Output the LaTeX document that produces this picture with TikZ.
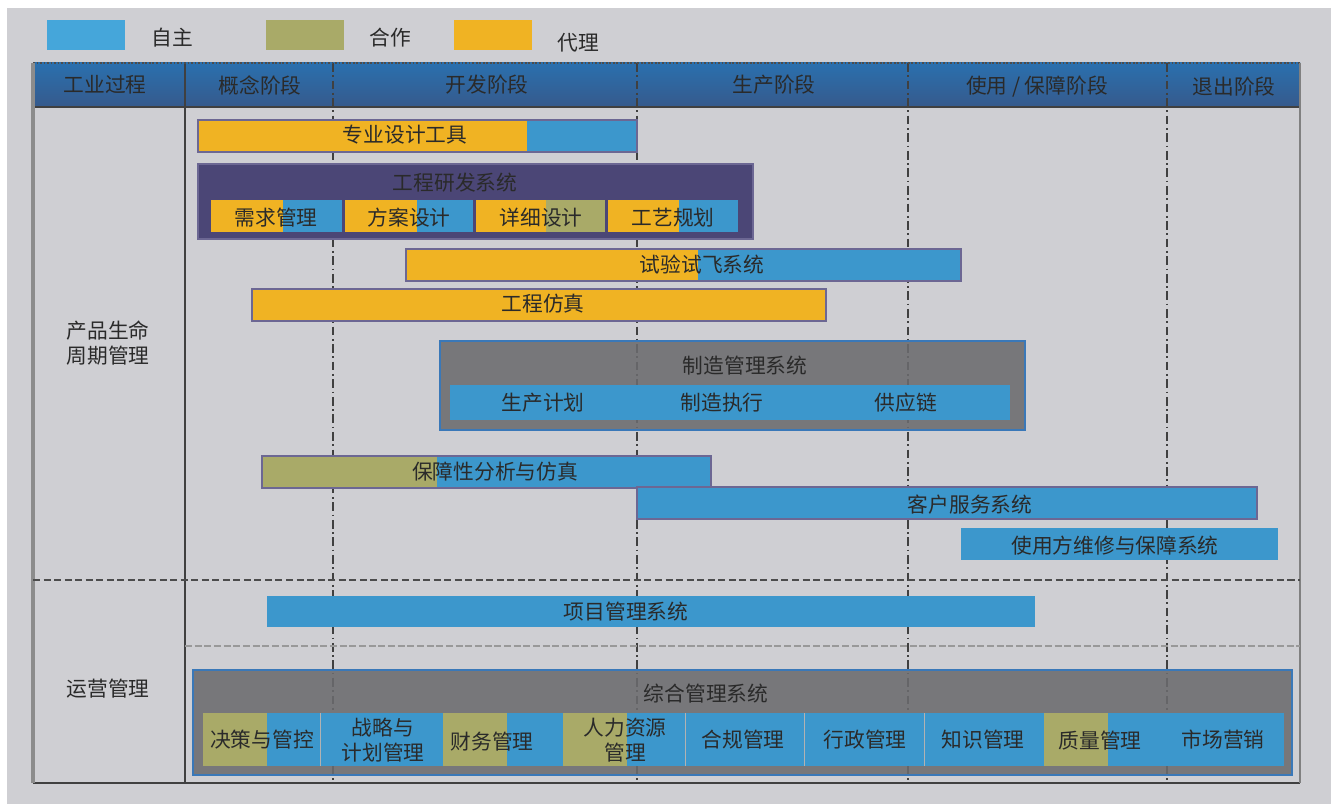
\documentclass[tikz,border=0pt]{standalone}
\usepackage{fontspec}
\setmainfont{Liberation Serif}
\newfontfamily\cjk{Noto Sans CJK SC}
\usetikzlibrary{positioning,calc}
\definecolor{selfblue}{HTML}{3C97CC}
\definecolor{legblue}{HTML}{45A6DA}
\definecolor{coopolive}{HTML}{A9AA68}
\definecolor{agentgold}{HTML}{F0B323}
\definecolor{headtop}{HTML}{2A70AE}
\definecolor{headbot}{HTML}{365A8C}
\definecolor{sysviolet}{HTML}{4B4676}
\definecolor{sysgray}{HTML}{6B6B6E}
\definecolor{panel}{HTML}{CFCFD3}
\definecolor{ink}{HTML}{2A2A2A}
\definecolor{rim}{HTML}{6C6793}
\definecolor{bluerim}{HTML}{3A78B8}
\tikzset{
  lbl/.style={font=\cjk\fontsize{11.8}{14.5}\selectfont,text=ink,inner sep=0pt,align=center},
  rimline/.style={draw=rim,line width=0.9pt},
  bluebox/.style={draw=bluerim,line width=0.9pt},
  phase/.style={draw=black!75,line width=0.7pt,dash pattern=on 5pt off 2pt on 1pt off 2pt},
  swatch/.style={minimum width=1.56cm,minimum height=0.6cm,inner sep=0pt}
}
% two-colour bar: name, x1, split, x2, y1, y2, left colour, right colour, rim
\newcommand{\duobar}[9]{%
  \fill[#7] (#2,#5) rectangle (#3,#6);
  \fill[#8] (#3,#5) rectangle (#4,#6);
  \draw[#9] (#2,#5) rectangle (#4,#6);
  \coordinate (#1) at ($(#2,#5)!0.5!(#4,#6)$);}
\begin{document}
\begin{tikzpicture}[x=0.02cm,y=-0.02cm]
  \useasboundingbox (0,0) rectangle (1331,804);
  \fill[panel] (7,8) rectangle (1331,804);

  % legend
  \node[swatch,fill=legblue] (legself) at (86,35) {};
  \node[lbl] (legselftxt) at (172,38) {自主};
  \node[swatch,fill=coopolive] (legcoop) at (305,35) {};
  \node[lbl] (legcooptxt) at (390,38) {合作};
  \node[swatch,fill=agentgold] (legagent) at (493,35) {};
  \node[lbl] (legagenttxt) at (578,43) {代理};

  % header band
  \shade[top color=headtop,bottom color=headbot] (33,63) rectangle (1300,107);
  \node[lbl] (hproc) at (105,85) {工业过程};
  \node[lbl] (hconc) at (260,85) {概念阶段};
  \node[lbl] (hdev)  at (487,85) {开发阶段};
  \node[lbl] (hprod) at (774,85) {生产阶段};
  \node[lbl] (huse)  at (1037,87) {使用 / 保障阶段};
  \node[lbl] (hret)  at (1234,87) {退出阶段};

  % grid lines
  \foreach \gx in {333,637,908,1167}
    \draw[phase] (\gx,63) -- (\gx,783);
  \draw[black!75,line width=0.8pt] (185,63) -- (185,783);
  \draw[black!70,line width=0.9pt,dash pattern=on 1pt off 1pt] (33,63) -- (1300,63);
  \draw[black!75,line width=0.8pt] (33,107) -- (1300,107);
  \draw[black!75,line width=0.9pt] (33,783) -- (1300,783);
  \draw[black!45,line width=1.8pt] (33,63) -- (33,783);
  \draw[black!50,line width=0.9pt] (1300,63) -- (1300,783);
  \draw[black!70,line width=0.8pt,dash pattern=on 4pt off 2pt] (33,580) -- (1300,580);
  \draw[black!40,line width=1.4pt,dash pattern=on 4pt off 1.5pt] (185,646) -- (1300,646);

  % row labels
  \node[lbl] (plm) at (108,343) {产品生命\\周期管理};
  \node[lbl] (ops) at (108,689) {运营管理};

  % design tools
  \duobar{tools}{198}{527}{637}{120}{152}{agentgold}{selfblue}{rimline}
  \node[lbl] (toolstxt) at (405,135) {专业设计工具};

  % engineering R&D system
  \fill[sysviolet] (198,164) rectangle (753,239);
  \draw[rimline] (198,164) rectangle (753,239);
  \node[lbl] (rdtxt) at (455,183) {工程研发系统};
  \duobar{req}{211}{283}{342}{200}{232}{agentgold}{selfblue}{draw=none}
  \duobar{scheme}{345}{417}{473}{200}{232}{agentgold}{selfblue}{draw=none}
  \duobar{detail}{476}{546}{605}{200}{232}{agentgold}{coopolive}{draw=none}
  \duobar{craft}{608}{679}{738}{200}{232}{agentgold}{selfblue}{draw=none}
  \node[lbl] (reqtxt) at (276,218) {需求管理};
  \node[lbl] (schemetxt) at (409,218) {方案设计};
  \node[lbl] (detailtxt) at (541,218) {详细设计};
  \node[lbl] (crafttxt) at (673,218) {工艺规划};

  % test and simulation
  \duobar{flight}{406}{698}{961}{249}{281}{agentgold}{selfblue}{rimline}
  \node[lbl] (flighttxt) at (702,265) {试验试飞系统};
  \duobar{sim}{252}{826}{826}{289}{321}{agentgold}{selfblue}{rimline}
  \node[lbl] (simtxt) at (543,304) {工程仿真};

  % manufacturing management
  \fill[sysgray,fill opacity=0.88] (440,341) rectangle (1025,430);
  \draw[bluebox] (440,341) rectangle (1025,430);
  \node[lbl] (mfgtxt) at (745,366) {制造管理系统};
  \fill[selfblue] (450,385) rectangle (1010,420);
  \node[lbl] (plantxt) at (543,403) {生产计划};
  \node[lbl] (exectxt) at (722,403) {制造执行};
  \node[lbl] (supplytxt) at (906,403) {供应链};

  % support and service
  \duobar{rams}{262}{437}{711}{456}{488}{coopolive}{selfblue}{rimline}
  \node[lbl] (ramstxt) at (495,472) {保障性分析与仿真};
  \duobar{service}{637}{637}{1257}{487}{519}{selfblue}{selfblue}{rimline}
  \node[lbl] (servicetxt) at (970,505) {客户服务系统};
  \fill[selfblue] (961,528) rectangle (1278,560);
  \node[lbl] (mrotxt) at (1115,546) {使用方维修与保障系统};

  % project management
  \fill[selfblue] (267,596) rectangle (1035,627);
  \node[lbl] (pmtxt) at (626,612) {项目管理系统};

  % integrated management
  \fill[sysgray,fill opacity=0.88] (193,670) rectangle (1292,775);
  \draw[bluebox] (193,670) rectangle (1292,775);
  \node[lbl] (imstxt) at (706,694) {综合管理系统};
  \fill[selfblue] (203,713) rectangle (1284,766);
  \foreach \ox in {203,443,563,1044}
    \fill[coopolive] (\ox,713) rectangle (\ox+64,766);
  \foreach \sx in {320,685,804,924}
    \draw[black!30,line width=0.4pt] (\sx,713) -- (\sx,766);
  \node[lbl] (decide) at (262,740) {决策与管控};
  \node[lbl] (strat) at (383,740) {战略与\\计划管理};
  \node[lbl] (fin) at (492,742) {财务管理};
  \node[lbl] (hr) at (625,740) {人力资源\\管理};
  \node[lbl] (comp) at (743,740) {合规管理};
  \node[lbl] (admin) at (865,740) {行政管理};
  \node[lbl] (know) at (983,740) {知识管理};
  \node[lbl] (qual) at (1100,741) {质量管理};
  \node[lbl] (mkt) at (1223,740) {市场营销};
\end{tikzpicture}
\end{document}
